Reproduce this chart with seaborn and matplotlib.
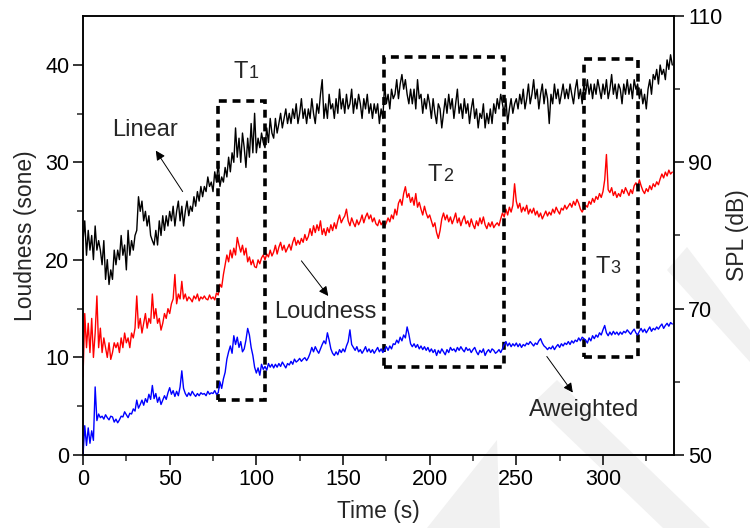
import matplotlib
matplotlib.use("Agg")
import matplotlib.pyplot as plt
from matplotlib.patches import Rectangle, Polygon
import numpy as np
import seaborn as sns

################################################################################
# Data (1 s sampling, 0..340 s)
################################################################################

time_s = list(range(341))

# Linear SPL (dB), right axis
linear_db = [
    79.3, 82.0, 77.3, 80.7, 78.0, 80.0, 76.7, 81.3, 78.0, 79.3,
    78.0, 76.0, 79.3, 74.0, 76.7, 73.3, 75.3, 74.0, 78.0, 76.0,
    78.0, 76.7, 80.0, 77.3, 78.7, 75.3, 80.7, 77.3, 79.3, 78.0,
    80.0, 80.7, 85.3, 83.3, 84.7, 82.0, 83.3, 81.3, 82.7, 80.0,
    79.3, 78.7, 80.7, 78.7, 82.0, 80.0, 82.7, 80.7, 82.7, 81.3,
    83.3, 82.0, 84.0, 81.3, 83.3, 84.7, 82.0, 84.0, 81.3, 83.3,
    84.7, 82.7, 84.0, 83.3, 85.3, 84.0, 86.0, 84.7, 86.7, 85.3,
    86.7, 86.0, 88.0, 86.7, 87.3, 86.0, 88.7, 87.3, 90.0, 86.7,
    88.0, 87.3, 89.3, 88.0, 90.7, 88.7, 91.3, 90.0, 94.7, 90.7,
    93.3, 90.0, 94.0, 92.0, 89.3, 93.3, 90.7, 95.3, 91.3, 96.7,
    91.3, 93.3, 92.0, 94.0, 92.7, 92.0, 94.7, 92.7, 96.0, 94.0,
    93.3, 96.0, 94.0, 95.3, 96.7, 94.7, 96.0, 97.3, 95.3, 96.7,
    95.3, 97.3, 96.0, 98.0, 95.3, 96.7, 98.7, 96.0, 97.3, 95.3,
    97.3, 96.0, 98.7, 96.7, 95.3, 98.0, 96.7, 99.3, 101.3, 96.0,
    98.0, 96.0, 99.3, 97.3, 98.0, 96.0, 98.7, 96.7, 100.0, 97.3,
    98.7, 96.7, 99.3, 97.3, 98.0, 100.0, 96.7, 98.7, 97.3, 99.3,
    98.0, 96.0, 98.7, 97.3, 99.3, 96.7, 98.0, 96.0, 98.0, 96.7,
    98.0, 95.3, 97.3, 96.0, 100.7, 98.0, 99.3, 97.3, 100.0, 98.7,
    99.3, 101.3, 98.7, 100.7, 102.0, 100.0, 101.3, 99.3, 98.0, 100.0,
    98.0, 100.0, 97.3, 101.3, 98.7, 99.3, 96.7, 98.7, 97.3, 99.3,
    98.0, 96.0, 98.7, 96.7, 95.3, 98.0, 97.3, 94.7, 96.7, 98.7,
    96.7, 99.3, 97.3, 98.7, 96.0, 98.0, 100.0, 96.7, 98.0, 96.0,
    98.7, 96.7, 98.0, 95.3, 97.3, 98.7, 96.0, 97.3, 94.7, 96.7,
    96.0, 98.0, 94.7, 96.7, 95.3, 97.3, 95.3, 98.0, 96.7, 98.7,
    97.3, 99.3, 98.0, 96.7, 98.7, 95.3, 97.3, 98.7, 96.7, 98.0,
    98.7, 97.3, 99.3, 98.0, 100.0, 97.3, 98.7, 100.7, 98.0, 99.3,
    101.3, 98.7, 100.0, 97.3, 99.3, 100.7, 98.0, 100.0, 98.7, 95.3,
    99.3, 98.0, 100.7, 98.7, 100.0, 98.0, 99.3, 100.7, 98.7, 100.0,
    98.7, 100.7, 99.3, 98.0, 100.0, 101.3, 98.7, 100.0, 98.0, 100.7,
    99.3, 101.3, 99.3, 100.7, 98.7, 100.7, 99.3, 101.3, 100.0, 98.7,
    100.7, 99.3, 101.3, 98.7, 100.0, 102.0, 99.3, 100.7, 98.7, 100.7,
    100.0, 98.0, 100.7, 99.3, 101.3, 99.3, 100.7, 98.7, 101.3, 100.0,
    100.7, 98.7, 100.0, 98.0, 99.3, 97.3, 100.0, 101.3, 99.3, 102.0,
    101.3, 102.7, 100.7, 103.3, 102.0, 102.7, 101.3, 104.0, 102.7, 104.7, 103.3,
]

# Loudness (sone), left axis
loudness_sone = [
    8.0, 14.5, 11.0, 13.5, 10.5, 14.0, 10.0, 12.5, 16.3, 11.0,
    13.0, 10.5, 12.0, 11.0, 10.0, 11.5, 9.8, 10.5, 11.5, 11.0,
    11.5, 10.5, 12.0, 11.0, 12.5, 11.5, 12.0, 11.0, 12.5, 12.0,
    13.0, 16.3, 13.0, 14.0, 12.5, 13.5, 14.5, 13.0, 14.0, 13.5,
    16.5, 14.0, 15.0, 13.5, 14.0, 12.8, 13.5, 14.5, 14.0, 15.0,
    14.5, 15.5, 16.0, 18.5, 15.5, 16.5, 16.0, 17.8, 16.0, 16.5,
    15.8, 16.2, 16.0, 15.7, 16.3, 16.0, 16.5, 15.8, 16.2, 16.0,
    16.3, 16.0, 15.9, 16.4, 16.0, 16.2, 15.9, 16.6, 16.4, 17.5,
    17.2, 18.5, 19.5, 20.5, 19.8, 21.0, 20.2, 21.2, 20.5, 22.3,
    21.5, 20.8, 21.5, 20.5, 21.2, 19.8, 20.3, 19.5, 20.0, 19.3,
    19.2, 20.0, 19.6, 20.2, 20.5, 20.0, 20.6, 20.3, 21.0, 20.4,
    20.8, 21.5, 20.6, 21.3, 21.8, 21.0, 21.5, 20.8, 21.2, 21.6,
    21.0, 21.8, 22.3, 21.5, 22.0, 21.6, 22.2, 21.8, 22.6, 22.0,
    22.4, 23.2, 22.5, 23.5, 22.8, 23.6, 23.0, 24.0, 22.6, 23.2,
    22.5, 23.3, 22.8, 23.6, 23.0, 23.8, 23.2, 24.0, 24.6, 23.8,
    24.2, 24.5, 25.2, 24.0, 23.5, 24.3, 23.8, 23.4, 24.1, 23.6,
    24.0, 24.6, 23.8, 24.4, 24.8, 24.2, 24.6, 23.9, 24.3, 23.7,
    23.5, 24.1, 23.6, 23.9, 23.4, 23.8, 24.3, 23.9, 24.6, 24.2,
    25.2, 24.6, 25.8, 26.2, 25.6, 26.8, 27.5, 26.4, 26.8, 25.9,
    26.4, 25.6, 26.8, 25.4, 25.9, 25.2, 24.6, 25.5, 24.8, 24.3,
    24.6, 24.0, 23.4, 23.8, 22.8, 22.2, 23.0, 24.2, 24.8, 24.1,
    24.6, 23.9, 24.4, 23.7, 24.2, 24.8, 23.8, 24.3, 23.5, 24.1,
    24.5, 23.7, 24.0, 23.4, 24.2, 23.6, 23.2, 24.0, 23.5, 24.3,
    23.7, 24.4, 23.6, 23.2, 23.8, 23.4, 23.9, 23.3, 23.6, 23.8,
    23.5, 24.2, 24.8, 24.4, 25.2, 24.6, 25.4, 24.9, 25.6, 27.8,
    26.0, 25.3, 25.8, 24.9, 25.4, 25.0, 25.6, 24.7, 25.2, 24.8,
    25.3, 24.6, 25.0, 24.4, 24.8, 24.2, 24.6, 25.0, 24.5, 24.9,
    24.6, 25.2, 24.8, 25.4, 25.0, 24.7, 25.3, 25.1, 25.6, 25.2,
    25.5, 25.8, 25.4, 26.0, 25.6, 26.2, 25.8, 25.2, 24.9, 25.3,
    25.6, 25.4, 26.0, 25.7, 26.3, 25.9, 26.5, 26.2, 26.8, 26.4,
    27.0, 28.2, 30.8, 27.2, 26.9, 27.4, 26.6, 27.0, 26.4, 26.8,
    26.5, 27.2, 26.8, 27.4, 27.0, 26.6, 27.2, 26.8, 27.6, 27.9,
    27.4, 28.2, 27.6, 27.1, 26.8, 27.3, 27.0, 27.6, 27.2, 27.8,
    27.5, 28.0, 27.7, 28.3, 28.8, 28.4, 29.0, 28.6, 29.2, 28.8, 29.0,
]

# A-weighted SPL (dB), right axis
aweighted_db = [
    50.0, 54.0, 51.3, 53.7, 51.6, 53.3, 52.0, 59.3, 54.7, 55.6,
    55.1, 55.3, 54.9, 55.5, 55.1, 54.8, 55.3, 55.2, 54.5, 54.9,
    54.4, 54.8, 55.3, 55.2, 55.9, 55.5, 55.1, 55.7, 55.6, 56.3,
    56.0, 57.5, 56.4, 56.9, 57.5, 56.8, 57.7, 57.2, 58.3, 57.6,
    59.5, 57.7, 58.4, 57.2, 57.9, 56.9, 57.5, 58.1, 57.6, 58.5,
    59.2, 58.3, 58.8, 58.0, 58.7, 58.1, 59.3, 61.5, 59.1, 58.4,
    58.0, 58.5, 58.1, 58.7, 58.3, 58.0, 58.4, 58.1, 58.5, 58.3,
    58.4, 58.1, 58.7, 58.3, 58.5, 58.4, 58.8, 58.3, 58.5, 60.0,
    59.1, 60.4, 61.3, 63.1, 64.1, 64.9, 63.9, 66.3, 65.1, 66.1,
    64.7, 65.5, 64.1, 64.5, 65.7, 67.3, 66.4, 64.7, 63.6, 62.0,
    61.2, 61.9, 60.9, 62.4, 61.7, 62.1, 61.6, 62.5, 62.0, 62.4,
    61.9, 62.4, 62.0, 62.5, 62.1, 62.7, 62.3, 61.9, 62.5, 62.3,
    62.8, 62.4, 63.1, 62.7, 62.9, 63.2, 62.8, 63.1, 63.3, 62.9,
    63.3, 63.9, 64.7, 64.1, 64.8, 64.3, 63.9, 64.5, 65.1, 65.6,
    65.2, 66.7, 65.7, 64.5, 63.9, 63.6, 64.1, 63.7, 64.4, 64.0,
    64.5, 64.1, 64.9, 65.5, 67.1, 65.1, 64.7, 64.3, 64.8, 64.1,
    64.4, 63.9, 64.3, 64.8, 64.1, 64.5, 64.0, 64.4, 63.9, 64.3,
    64.7, 64.1, 64.5, 64.0, 64.4, 64.8, 64.3, 64.9, 64.5, 65.2,
    65.1, 65.7, 65.3, 66.1, 65.6, 66.4, 66.0, 67.5, 66.5, 65.2,
    64.8, 65.2, 64.7, 65.1, 64.5, 64.9, 64.4, 64.8, 64.3, 64.7,
    64.1, 64.5, 64.0, 64.4, 63.6, 64.3, 63.9, 64.5, 64.1, 63.7,
    64.4, 64.0, 64.7, 64.3, 64.5, 64.1, 64.7, 64.3, 64.8, 64.4,
    64.1, 64.7, 64.3, 64.5, 64.0, 64.4, 64.7, 64.1, 63.7, 64.3,
    64.0, 64.5, 63.6, 64.1, 64.4, 64.0, 64.5, 64.3, 63.9, 64.1,
    64.4, 64.0, 64.5, 65.1, 65.5, 64.9, 65.3, 64.8, 65.2, 64.9,
    65.3, 64.8, 65.2, 64.7, 65.1, 64.9, 65.3, 65.1, 65.5, 65.2,
    64.9, 65.3, 65.1, 65.6, 65.9, 65.3, 64.9, 64.7, 64.4, 64.7,
    64.5, 64.9, 64.4, 64.8, 65.1, 64.7, 65.2, 64.9, 65.3, 65.1,
    65.5, 65.1, 65.6, 65.3, 65.7, 65.5, 66.0, 65.6, 66.1, 65.9,
    65.7, 65.3, 66.0, 65.6, 66.3, 65.9, 66.4, 66.1, 66.7, 66.4,
    67.1, 67.7, 66.7, 66.3, 66.8, 66.4, 66.9, 66.5, 66.8, 66.4,
    66.8, 66.5, 66.9, 66.7, 67.1, 66.8, 66.5, 66.9, 67.2, 66.7,
    66.4, 66.9, 67.3, 66.8, 67.2, 66.7, 67.1, 67.5, 66.9, 67.3,
    67.1, 67.5, 67.2, 67.6, 67.9, 67.3, 67.7, 68.0, 67.6, 68.1, 67.9,
]

# dashed analysis windows: (label, t_start, t_end, loudness_low, loudness_high)
windows = [("1", 78, 105, 5.6, 36.3),
           ("2", 173.6, 242.8, 9.0, 40.8),
           ("3", 289, 320, 10.0, 40.6)]
window_label_pos = [(95, 38.6), (207, 28.1), (304, 18.7)]

# faint watermark stripes in the lower right (figure pixels, top-left origin)
watermark = [
    [(427, 528), (497, 440), (500, 528)],
    [(557, 380), (710, 528), (663, 528), (533, 403)],
    [(667, 270), (687, 247), (750, 330), (750, 362)],
]

################################################################################
# Plot
################################################################################

sns.set_style("white")
plt.rcParams['font.family'] = ['Liberation Sans', 'DejaVu Sans']
plt.rcParams['font.size'] = 15.5

W, H = 750, 528
fig = plt.figure(figsize=(W / 100, H / 100), dpi=100)

for poly in watermark:
    pts = [(px / W, 1 - py / H) for px, py in poly]
    fig.patches.append(Polygon(pts, closed=True, transform=fig.transFigure,
                               facecolor="#f1f1f1", edgecolor="none", zorder=-5))

ax = fig.add_axes([0.1107, 0.1383, 0.788, 0.8314])
ax2 = ax.twinx()
ax.patch.set_alpha(0)
ax2.patch.set_alpha(0)

sns.lineplot(x=time_s, y=loudness_sone, ax=ax, color="#ff0000", lw=1.0)
sns.lineplot(x=time_s, y=linear_db, ax=ax2, color="black", lw=1.0)
sns.lineplot(x=time_s, y=aweighted_db, ax=ax2, color="#0000ff", lw=1.0)

ax.set_xlim(0, 341)
ax.set_ylim(0, 45)
ax2.set_ylim(50, 110)

ax.set_xticks([0, 50, 100, 150, 200, 250, 300])
ax.set_xticks(np.arange(25, 341, 50), minor=True)
ax.set_yticks([0, 10, 20, 30, 40])
ax.set_yticks([5, 15, 25, 35], minor=True)
ax2.set_yticks([50, 70, 90, 110])
ax2.set_yticks([60, 80, 100], minor=True)

for a in (ax, ax2):
    a.tick_params(which="major", direction="out", length=7, width=1.1,
                  colors="black", labelsize=15.5, pad=3)
    a.tick_params(which="minor", direction="out", length=4, width=1.1)
    for sp in a.spines.values():
        sp.set_linewidth(1.1)
        sp.set_color("black")
ax.tick_params(top=False, right=False, bottom=True, left=True)
ax.tick_params(which="minor", top=False, right=False, bottom=True, left=True)
ax2.tick_params(which="both", right=True, left=False)

ax.set_xlabel("Time (s)", fontsize=16.5, labelpad=7)
ax.set_ylabel("Loudness (sone)", fontsize=16.5, labelpad=6)
ax2.set_ylabel("SPL (dB)", fontsize=16.5, labelpad=3)

for (lab, t0, t1, lo, hi), (tx, ty) in zip(windows, window_label_pos):
    ax.add_patch(Rectangle((t0, lo), t1 - t0, hi - lo, fill=False,
                           edgecolor="black", lw=2.6, linestyle=(0, (2.2, 1.6)),
                           zorder=5))
    ax.text(tx, ty, "T", fontsize=17, ha="right", va="baseline")
    ax.text(tx + 0.5, ty, lab, fontsize=13, ha="left", va="baseline")

arrow_kw = dict(arrowstyle="-|>", color="black", lw=0.7, mutation_scale=14,
                shrinkA=0, shrinkB=0)
ax.annotate("", xy=(42, 31.2), xytext=(57.5, 27.0), arrowprops=arrow_kw)
ax.annotate("", xy=(141.5, 16.3), xytext=(126, 19.9), arrowprops=arrow_kw)
ax.annotate("", xy=(282.6, 6.4), xytext=(267.6, 10.1), arrowprops=arrow_kw)
ax.text(36, 33.3, "Linear", fontsize=17, ha="center", va="center")
ax.text(140, 14.7, "Loudness", fontsize=17, ha="center", va="center")
ax.text(289, 4.6, "Aweighted", fontsize=17, ha="center", va="center")

fig.savefig("out.png", dpi=100)
